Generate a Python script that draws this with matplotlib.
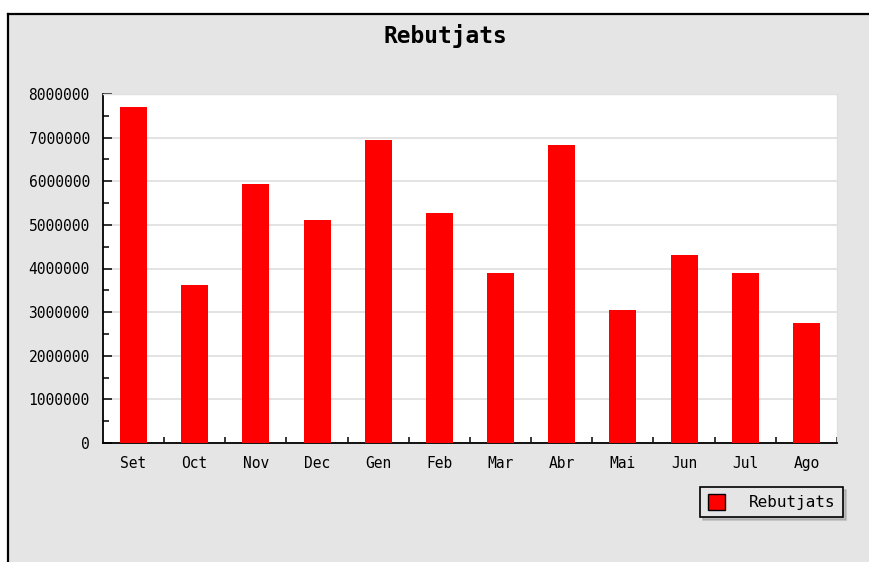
import numpy as np
import matplotlib
matplotlib.use("Agg")
import matplotlib.pyplot as plt
from matplotlib.patches import Rectangle, Patch
from matplotlib.lines import Line2D
from matplotlib.ticker import MultipleLocator, FixedLocator

months = ["Set", "Oct", "Nov", "Dec", "Gen", "Feb", "Mar", "Abr",
          "Mai", "Jun", "Jul", "Ago"]
rebutjats = [7710000, 3620000, 5940000, 5120000, 6940000, 5270000,
             3890000, 6820000, 3050000, 4300000, 3890000, 2760000]
series_name = "Rebutjats"
title = "Rebutjats"

W, H = 870, 562
BG = "#e5e5e5"
plt.rcParams["font.family"] = ["DejaVu Sans Mono"]

fig = plt.figure(figsize=(W / 100, H / 100), dpi=100, facecolor="white")

# grey panel with black top/left frame
fig.patches.append(Rectangle((8 / W, 0), 1 - 8 / W, 1 - 13 / H,
                             transform=fig.transFigure, facecolor=BG,
                             edgecolor="none", zorder=-5))
fig.lines.append(Line2D([8.5 / W, 1], [1 - 13.5 / H, 1 - 13.5 / H],
                        transform=fig.transFigure, color="black", lw=1.6,
                        zorder=-4))
fig.lines.append(Line2D([8.5 / W, 8.5 / W], [0, 1 - 13.5 / H],
                        transform=fig.transFigure, color="black", lw=1.6,
                        zorder=-4))

x0, x1, y0, y1 = 103, 837, 94, 443
ax = fig.add_axes([x0 / W, 1 - y1 / H, (x1 - x0) / W, (y1 - y0) / H])
ax.set_zorder(2)
ax.set_facecolor("white")

x = np.arange(len(months))
ax.bar(x, rebutjats, width=0.44, color="#ff0000", zorder=3,
       label=series_name)

ax.set_xlim(-0.5, len(months) - 0.5)
ax.set_ylim(0, 8000000)
ax.yaxis.set_major_locator(MultipleLocator(1000000))
ax.yaxis.set_minor_locator(MultipleLocator(500000))
ax.yaxis.set_major_formatter(matplotlib.ticker.FuncFormatter(lambda v, p: f"{int(v)}"))
ax.grid(axis="y", which="major", color="#e0e0e0", lw=1.3, zorder=1)
ax.set_axisbelow(True)

ax.set_xticks(x)
ax.set_xticklabels(months)
ax.xaxis.set_minor_locator(FixedLocator(np.arange(0.5, len(months), 1.0)))

ax.tick_params(axis="y", which="major", direction="in", length=6.5,
               width=1.1, pad=9.5, labelsize=10.5, colors="black")
ax.tick_params(axis="y", which="minor", direction="in", length=4.3,
               width=1.1)
ax.tick_params(axis="x", which="major", length=0, pad=9.3, labelsize=10.5)
ax.tick_params(axis="x", which="minor", direction="in", length=4,
               width=1.1)

for s in ("left", "bottom"):
    ax.spines[s].set_color("black")
    ax.spines[s].set_linewidth(1.3)
for s in ("top", "right"):
    ax.spines[s].set_color("#e0e0e0")
    ax.spines[s].set_linewidth(1.0)

fig.text(445 / W, 1 - 36 / H, title, ha="center", va="center",
         fontsize=16.5, fontweight="bold")

handle = Patch(facecolor="#ff0000", edgecolor="black", lw=1.0)
leg = fig.legend([handle], [series_name], loc="upper right",
                 bbox_to_anchor=(843 / W, 1 - 487 / H), fontsize=11.5,
                 frameon=True, fancybox=False, shadow={"color": "#999999"},
                 facecolor=BG, edgecolor="black", framealpha=1,
                 handlelength=1.1, handleheight=1.1, handletextpad=1.5,
                 borderpad=0.45, borderaxespad=0)
leg.get_frame().set_linewidth(1.2)

fig.savefig("out.png", dpi=100, facecolor="white")
